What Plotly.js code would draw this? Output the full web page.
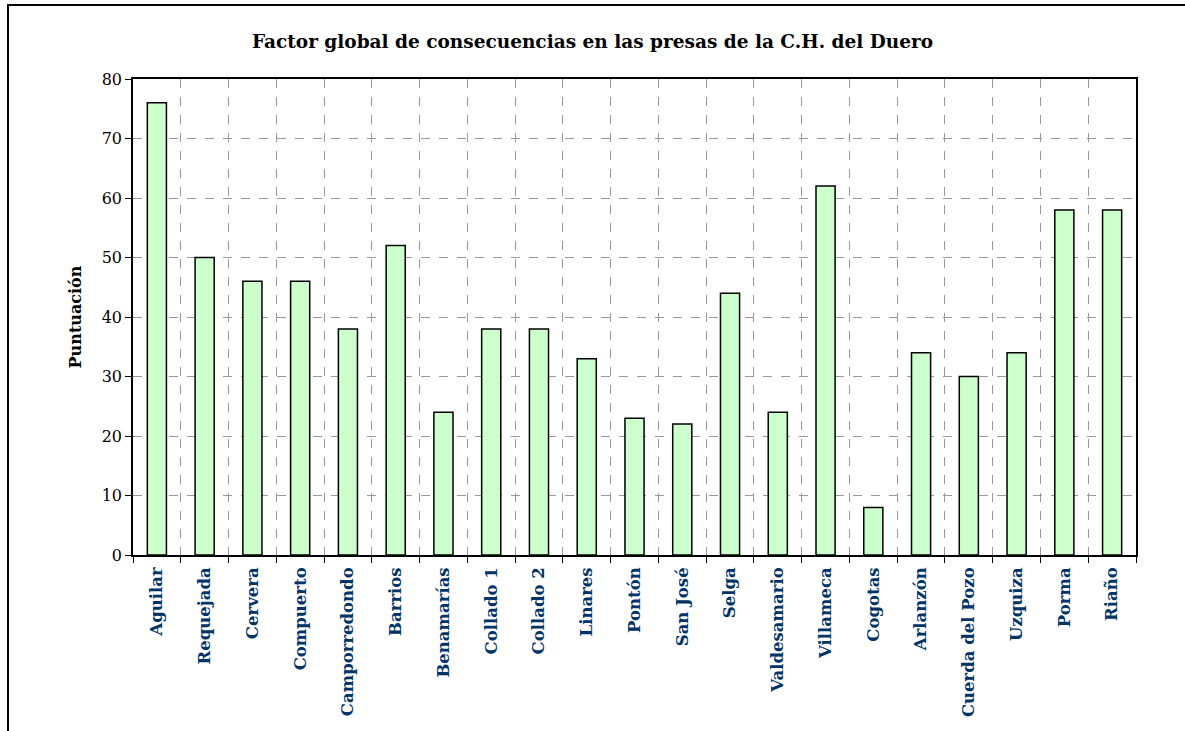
<!DOCTYPE html>
<html>
<head>
<meta charset="utf-8">
<script src="https://cdn.plot.ly/plotly-3.0.1.min.js"></script>
<style>
html, body { margin: 0; padding: 0; background: #fff; }
#frame { position: absolute; left: 7px; top: 4px; width: 1200px; height: 760px; border-left: 2px solid #000; border-top: 2px solid #000; }
#chart { position: absolute; left: 0; top: 0; width: 1185px; height: 731px; }
</style>
</head>
<body>
<div id="frame"></div>
<div id="chart"></div>
<script>
const categories = ["Aguilar", "Requejada", "Cervera", "Compuerto", "Camporredondo", "Barrios", "Benamarías", "Collado 1", "Collado 2", "Linares", "Pontón", "San José", "Selga", "Valdesamario", "Villameca", "Cogotas", "Arlanzón", "Cuerda del Pozo", "Uzquiza", "Porma", "Riaño"];
const puntuacion = [76, 50, 46, 46, 38, 52, 24, 38, 38, 33, 23, 22, 44, 24, 62, 8, 34, 30, 34, 58, 58];
const yTicks = [0, 10, 20, 30, 40, 50, 60, 70, 80];

const font = "DejaVu Serif, serif";

const trace = {
  type: "bar",
  x: categories,
  y: puntuacion,
  marker: { color: "#CCFFCC", line: { color: "#000", width: 1.5 } },
  hoverinfo: "x+y"
};

const layout = {
  width: 1185,
  height: 731,
  paper_bgcolor: "rgba(0,0,0,0)",
  plot_bgcolor: "#fff",
  margin: { l: 133, r: 49, t: 79, b: 176 },
  bargap: 0.6,
  showlegend: false,
  title: {
    text: "<b>Factor global de consecuencias en las presas de la C.H. del Duero</b>",
    font: { family: font, size: 18.5, color: "#000" },
    x: 0.5, xref: "container", y: 0.943, yref: "container", yanchor: "middle"
  },
  xaxis: {
    type: "category",
    tickson: "boundaries",
    ticks: "outside",
    ticklen: 6,
    tickcolor: "#000",
    tickangle: -90,
    ticklabelstandoff: 4,
    tickfont: { family: font, size: 16.5, color: "#003366", weight: "bold" },
    showline: true, linecolor: "#000", linewidth: 1.5, mirror: true,
    showgrid: true, gridcolor: "#999", griddash: "dash", gridwidth: 1,
    automargin: false
  },
  yaxis: {
    range: [0, 80],
    tickvals: yTicks,
    ticks: "outside",
    ticklen: 6,
    tickcolor: "#000",
    tickfont: { family: font, size: 16, color: "#000" },
    showline: true, linecolor: "#000", linewidth: 1.5, mirror: true,
    showgrid: true, gridcolor: "#999", griddash: "dash", gridwidth: 1,
    zeroline: false,
    title: { text: "<b>Puntuación</b>", font: { family: font, size: 16, color: "#000" }, standoff: 16 },
    automargin: false
  }
};

Plotly.newPlot("chart", [trace], layout, { displayModeBar: false });
</script>
</body>
</html>
